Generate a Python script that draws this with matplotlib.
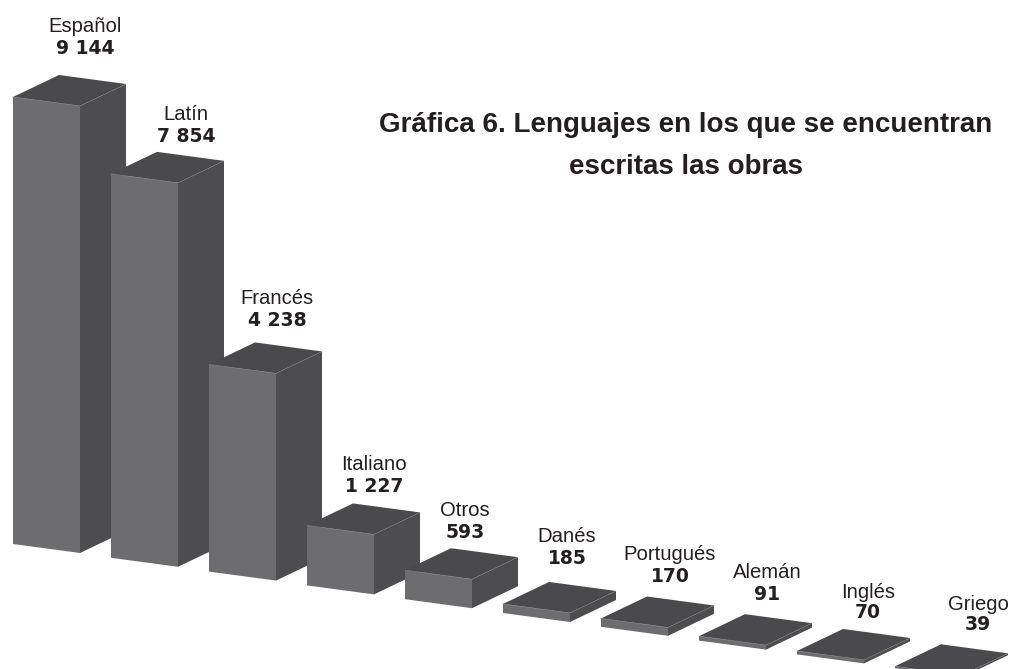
import matplotlib
matplotlib.use("Agg")
import matplotlib.pyplot as plt
from matplotlib.patches import Polygon

# datos de la gráfica
languages = ["Español", "Latín", "Francés", "Italiano", "Otros", "Danés",
             "Portugués", "Alemán", "Inglés", "Griego"]
works = [9144, 7854, 4238, 1227, 593, 185, 170, 91, 70, 39]
value_labels = ["9 144", "7 854", "4 238", "1 227", "593", "185", "170", "91", "70", "39"]

# posición de las etiquetas, colocadas a mano en el original (píxeles)
label_x = [85, 186, 277, 374, 465, 567, 670, 767, 868, 978]
name_y = [26, 115, 298, 465, 511, 536, 554, 573, 592, 604]
value_y = [48, 137, 320, 487, 533, 558, 577, 595, 613, 624]

FRONT = "#6d6d6f"
SIDE = "#4d4d4f"
TOP = "#4a4a4c"
TEXT = "#231f20"

PX_PER_WORK = 447 / 9144
STEP_X, STEP_Y = 98, 13.8
WIDTH_X, WIDTH_Y = 67, 9
DEPTH_X, DEPTH_Y = 46, -22

fig = plt.figure(figsize=(10.11, 6.69), dpi=100)
ax = fig.add_axes([0, 0, 1, 1])
ax.set_xlim(0, 1011)
ax.set_ylim(669, 0)
ax.axis("off")


def draw_bar(x, y, h):
    fl, fr = (x, y), (x + WIDTH_X, y + WIDTH_Y)
    tl, tr = (x, y - h), (x + WIDTH_X, y + WIDTH_Y - h)
    br = (fr[0] + DEPTH_X, fr[1] + DEPTH_Y)
    tbr = (tr[0] + DEPTH_X, tr[1] + DEPTH_Y)
    tbl = (tl[0] + DEPTH_X, tl[1] + DEPTH_Y)
    ax.add_patch(Polygon([fl, fr, tr, tl], fc=FRONT, ec="none"))
    ax.add_patch(Polygon([fr, br, tbr, tr], fc=SIDE, ec="none"))
    ax.add_patch(Polygon([tl, tr, tbr, tbl], fc=TOP, ec="none"))
    # filo claro de la cara superior
    ax.plot([tl[0], tr[0]], [tl[1], tr[1]], color="#7c7c7e", lw=0.5)
    ax.plot([tr[0], tbr[0]], [tr[1], tbr[1]], color="#808082", lw=0.5, ls=(0, (1.5, 1)))


for i, n in enumerate(works):
    draw_bar(13 + STEP_X * i, 544 + STEP_Y * i, n * PX_PER_WORK)

for i, name in enumerate(languages):
    ax.text(label_x[i], name_y[i], name, ha="center", va="center", color=TEXT,
            family="Liberation Sans", fontsize=14.6)
    ax.text(label_x[i], value_y[i], value_labels[i], ha="center", va="center", color=TEXT,
            family="DejaVu Sans", weight="bold", fontsize=13.5)

ax.text(686, 125, "Gráfica 6. Lenguajes en los que se encuentran", ha="center", va="center",
        color=TEXT, family="Liberation Sans", weight="bold", fontsize=20)
ax.text(686, 167, "escritas las obras", ha="center", va="center",
        color=TEXT, family="Liberation Sans", weight="bold", fontsize=20)

fig.savefig("out.png", dpi=100)
plt.close(fig)
